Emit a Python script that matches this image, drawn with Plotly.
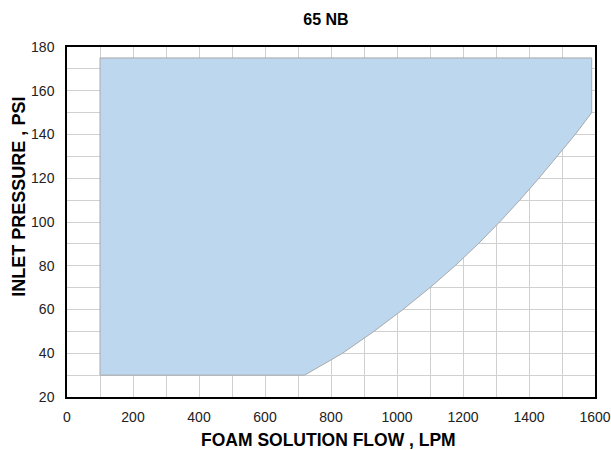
import plotly.graph_objects as go

# Operating envelope outline (LPM, PSI)
flow_lpm = [100, 100, 1590, 1590, 1540, 1486, 1430, 1372, 1311, 1246, 1176, 1100, 1018, 930, 835, 720, 100]
pressure_psi = [30, 175, 175, 150, 140, 130, 120, 110, 100, 90, 80, 70, 60, 50, 40, 30, 30]

x_ticks = [0, 200, 400, 600, 800, 1000, 1200, 1400, 1600]
y_ticks = [20, 40, 60, 80, 100, 120, 140, 160, 180]

chart_title = "65 NB"
x_title = "FOAM SOLUTION FLOW , LPM"
y_title = "INLET PRESSURE , PSI"

fig = go.Figure()
fig.add_trace(go.Scatter(
    x=flow_lpm, y=pressure_psi, mode="lines", fill="toself",
    fillcolor="#BDD7EE", line=dict(color="#AAAAAA", width=1),
    hoverinfo="skip", showlegend=False,
))

FONT = "Liberation Sans, Arial, sans-serif"
tick_font = dict(family=FONT, size=14, color="#222222")

fig.update_layout(
    width=611, height=450,
    margin=dict(l=67, r=16, t=47, b=53, autoexpand=False),
    paper_bgcolor="white", plot_bgcolor="white",
    title=dict(text=f"<b>{chart_title}</b>", x=0.4905, xref="paper", xanchor="center",
               y=1 - 19 / 450, yanchor="middle",
               font=dict(family=FONT, size=16, color="#000000")),
    xaxis=dict(
        range=[0, 1600], tickvals=x_ticks, ticktext=[str(v) for v in x_ticks],
        showgrid=True, gridcolor="#D0D0D0", gridwidth=1, automargin=False,
        minor=dict(dtick=100, tick0=0, showgrid=True, gridcolor="#D0D0D0", gridwidth=1),
        showline=True, linecolor="#000000", linewidth=1.5, mirror=True,
        ticks="", tickfont=tick_font, zeroline=False, ticklabelstandoff=6,
    ),
    yaxis=dict(
        range=[20, 180], tickvals=y_ticks, ticktext=[str(v) for v in y_ticks],
        showgrid=True, gridcolor="#D0D0D0", gridwidth=1, automargin=False,
        minor=dict(dtick=10, tick0=20, showgrid=True, gridcolor="#D0D0D0", gridwidth=1),
        showline=True, linecolor="#000000", linewidth=1.5, mirror=True,
        ticks="", tickfont=tick_font, zeroline=False, ticklabelstandoff=8,
    ),
    annotations=[
        dict(text=f"<b>{x_title}</b>", xref="paper", yref="paper", x=0.496, y=0,
             xanchor="center", yanchor="middle", yshift=-43, showarrow=False,
             font=dict(family=FONT, size=17.5, color="#000000")),
        dict(text=f"<b>{y_title}</b>", xref="paper", yref="paper", x=0, y=0.571,
             xanchor="center", yanchor="middle", xshift=-47.5, textangle=-90,
             showarrow=False, font=dict(family=FONT, size=18, color="#000000")),
    ],
)

fig.write_html("out.html", post_script="document.body.style.margin='0px';",
               config={"displayModeBar": False})
